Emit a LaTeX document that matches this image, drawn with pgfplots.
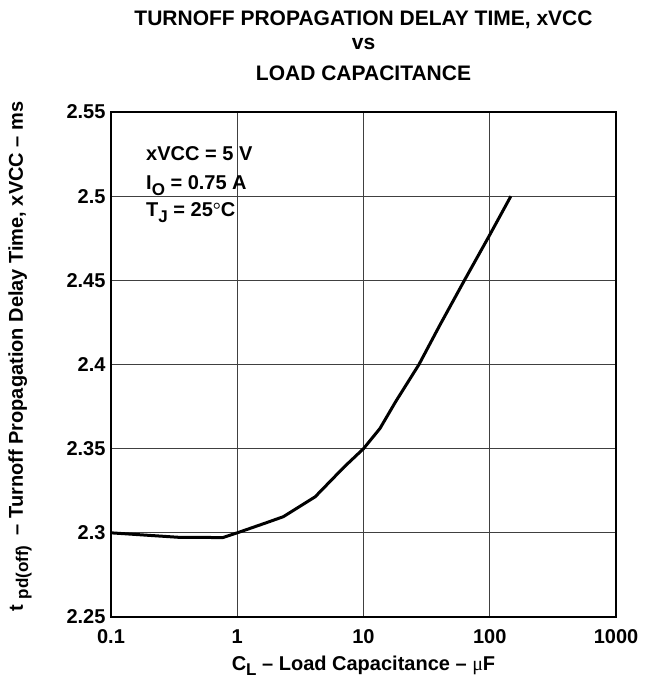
\documentclass[border=0pt]{standalone}
\usepackage{pgfplots}
\pgfplotsset{compat=1.18}
\usepackage{fontspec}
\setmainfont{Liberation Sans}
\newfontfamily\serifmu{Liberation Serif}
\newcommand{\sub}[1]{\raisebox{-0.28em}{\fontsize{17}{17}\selectfont #1}}
\begin{document}
\begin{tikzpicture}
\begin{axis}[
  scale only axis,
  width=505pt, height=505pt,
  xmode=log,
  xmin=0.1, xmax=1000,
  ymin=2.25, ymax=2.55,
  xtick={0.1,1,10,100,1000},
  xticklabels={0.1,1,10,100,1000},
  ytick={2.25,2.3,2.35,2.4,2.45,2.5,2.55},
  yticklabels={2.25,2.3,2.35,2.4,2.45,2.5,2.55},
  minor xtick={},
  log basis x=10,
  grid=major,
  major grid style={line width=1pt, color=black!75},
  axis line style={line width=2.4pt},
  major tick length=0pt,
  tick label style={font=\bfseries\fontsize{20}{20}\selectfont},
  /pgf/number format/assume math mode=true,
  xticklabel style={yshift=-9pt},
  yticklabel style={xshift=-2pt},
  clip=false,
]
\addplot[black, line width=3pt, line join=round] coordinates {
(0.1,2.300) (0.2,2.2985) (0.35,2.2973) (0.77,2.2972) (1,2.300)
(1.7,2.306) (2.32,2.3096) (4.14,2.3214) (7,2.339) (10,2.350)
(13.5,2.362) (18,2.378) (27.5,2.400) (40,2.423) (63,2.450)
(100,2.477) (147,2.500)
};
\coordinate (sw) at (rel axis cs:0,0);
\coordinate (ne) at (rel axis cs:1,1);
\coordinate (nw) at (rel axis cs:0,1);
\coordinate (n) at (rel axis cs:0.5,1);
\coordinate (s) at (rel axis cs:0.5,0);
\coordinate (w) at (rel axis cs:0,0.5);
\end{axis}
\begin{scope}[every node/.style={font=\bfseries\fontsize{20}{20}\selectfont, inner sep=0pt}]
\node[anchor=base] at ([yshift=86pt]n) {\fontsize{21}{21}\selectfont TURNOFF PROPAGATION DELAY TIME, xVCC};
\node[anchor=base] at ([yshift=62pt]n) {\fontsize{21}{21}\selectfont vs};
\node[anchor=base] at ([yshift=31pt]n) {\fontsize{21}{21}\selectfont LOAD CAPACITANCE};
\node[anchor=base west] at ([shift={(35pt,-49pt)}]nw) {xVCC = 5 V};
\node[anchor=base west] at ([shift={(35pt,-78pt)}]nw) {I\sub{O} = 0.75 A};
\node[anchor=base west] at ([shift={(35pt,-105pt)}]nw) {T\sub{J} = 25{\mdseries\serifmu °}C};
\node[anchor=base] at ([yshift=-53pt]s) {C\sub{L} -- Load Capacitance -- {\mdseries\serifmu μ}F};
\node[anchor=base, rotate=90] at ([shift={(-88pt,8pt)}]w) {t {\fontsize{17}{17}\selectfont\raisebox{-0.3em}{pd(off)}}\enspace -- Turnoff Propagation Delay Time, xVCC -- ms};
\end{scope}
\pgfresetboundingbox
\path (sw) ++(-111pt,-67pt) coordinate (bbl);
\path (ne) ++(34pt,112pt) coordinate (btr);
\path[use as bounding box] (bbl) rectangle (btr);
\end{tikzpicture}
\end{document}
